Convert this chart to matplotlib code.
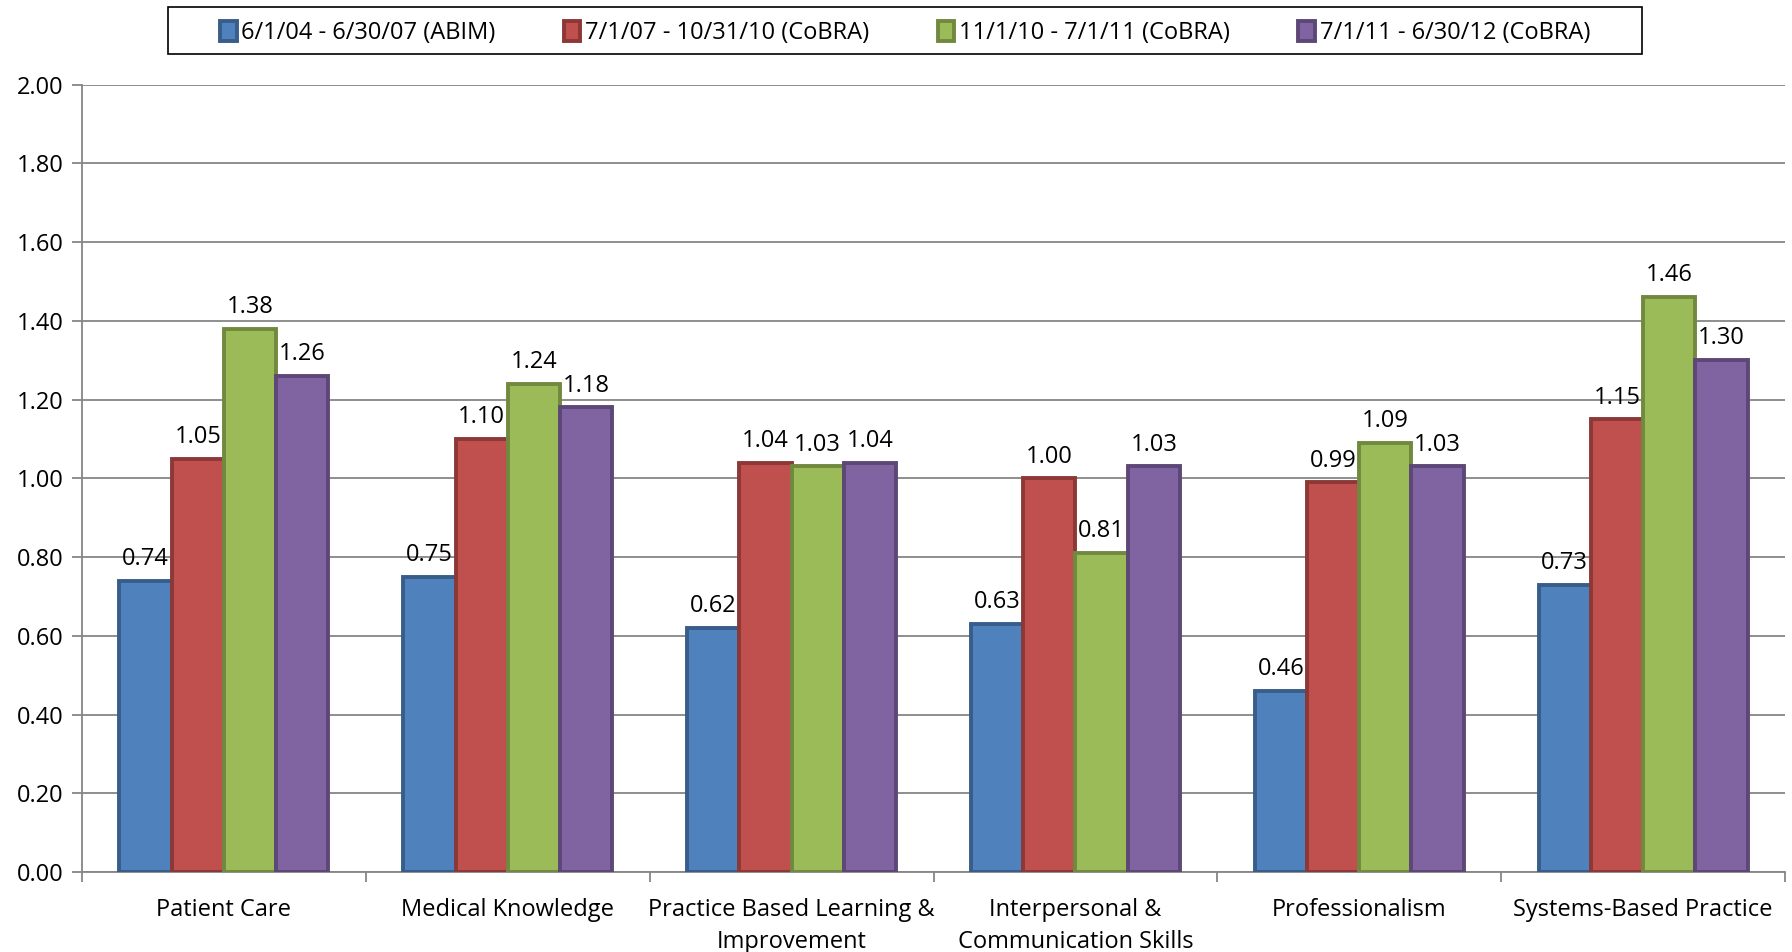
import numpy as np
import matplotlib.pyplot as plt
from matplotlib.patches import Rectangle

plt.rcParams['font.family'] = ['Open Sans', 'DejaVu Sans']

# --- data ---
categories = ['Patient Care', 'Medical Knowledge', 'Practice Based Learning &\nImprovement',
              'Interpersonal &\nCommunication Skills', 'Professionalism', 'Systems-Based Practice']
series_names = ['6/1/04 - 6/30/07 (ABIM)', '7/1/07 - 10/31/10 (CoBRA)',
                '11/1/10 - 7/1/11 (CoBRA)', '7/1/11 - 6/30/12 (CoBRA)']
abim_04_07 = [0.74, 0.75, 0.62, 0.63, 0.46, 0.73]
cobra_07_10 = [1.05, 1.10, 1.04, 1.00, 0.99, 1.15]
cobra_10_11 = [1.38, 1.24, 1.03, 0.81, 1.09, 1.46]
cobra_11_12 = [1.26, 1.18, 1.04, 1.03, 1.03, 1.30]
y_ticks = [0.0, 0.2, 0.4, 0.6, 0.8, 1.0, 1.2, 1.4, 1.6, 1.8, 2.0]

# excel 2007 palette: fill / darker edge
fills = ['#4F81BD', '#C0504D', '#9BBB59', '#8064A2']
edges = ['#385D8A', '#8C3836', '#71893F', '#5C4776']

FS = 17

fig = plt.figure(figsize=(17.92, 9.52), dpi=100)
ax = fig.add_axes([82 / 1792, 1 - 872 / 952, 1703 / 1792, (872 - 84.6) / 952])

x = np.arange(len(categories))
bw = 0.184
all_series = [abim_04_07, cobra_07_10, cobra_10_11, cobra_11_12]
handles = []
for i, vals in enumerate(all_series):
    offs = (i - 1.5) * bw
    bars = ax.bar(x + offs, vals, bw, color=fills[i], edgecolor=edges[i],
                  linewidth=2.8, label=series_names[i], zorder=3)
    ax.bar_label(bars, labels=['%.2f' % v for v in vals], padding=7,
                 fontsize=FS, color='black', zorder=4)
    handles.append(bars)

ax.set_xlim(-0.5, len(categories) - 0.5)
ax.set_ylim(0, 2.0)
ax.set_yticks(y_ticks)
ax.set_yticklabels(['%.2f' % t for t in y_ticks], fontsize=FS)
ax.yaxis.grid(True, color='#868686', linewidth=1.3, zorder=0)
ax.tick_params(axis='y', length=7, width=1.3, color='#868686', pad=6)

ax.set_xticks(x)
ax.set_xticklabels(categories, fontsize=FS, linespacing=1.4)
ax.set_xticks(np.arange(len(categories) + 1) - 0.5, minor=True)
ax.tick_params(axis='x', which='major', length=0, pad=19)
ax.tick_params(axis='x', which='minor', length=7, width=1.3, color='#868686')

for s in ['top', 'right']:
    ax.spines[s].set_visible(False)
for s in ['left', 'bottom']:
    ax.spines[s].set_color('#868686')
    ax.spines[s].set_linewidth(1.3)

# legend box along the top
fig.patches.append(Rectangle((168 / 1792, 1 - 54 / 952), (1642 - 168) / 1792, 47 / 952,
                             transform=fig.transFigure, fill=False,
                             edgecolor='black', linewidth=1.2))
fig.legend(handles=handles, loc='center', bbox_to_anchor=(905 / 1792, 1 - 33 / 952),
           ncol=4, frameon=False, fontsize=FS, handlelength=0.7, handleheight=0.9,
           handletextpad=0.2, columnspacing=2.9)

fig.savefig('out.png', dpi=100)
